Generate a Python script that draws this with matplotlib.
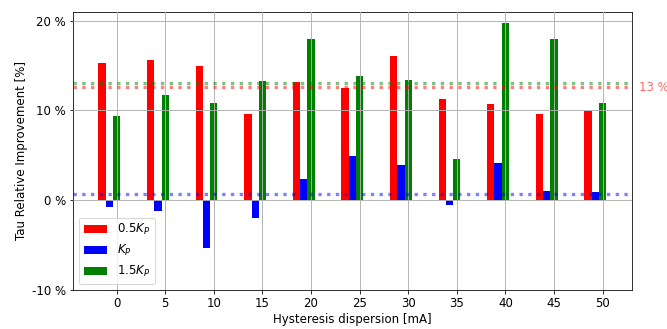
import numpy as np
import matplotlib
matplotlib.use("Agg")
import matplotlib.pyplot as plt
from matplotlib.ticker import FuncFormatter

dispersion = [0, 5, 10, 15, 20, 25, 30, 35, 40, 45, 50]
half_kp = [15.3, 15.57, 14.9, 9.6, 13.2, 12.55, 16.1, 11.25, 10.7, 9.6, 9.9]
kp = [-0.78, -1.2, -5.3, -1.97, 2.35, 4.88, 3.95, -0.52, 4.2, 1.04, 0.93]
one_half_kp = [9.35, 11.73, 10.8, 13.33, 17.95, 13.85, 13.44, 4.62, 19.78, 17.95, 10.8]
labels = ["0.5$K_P$", "$K_P$", "1.5$K_P$"]
colors = ["red", "blue", "green"]

FS = 11.8
fig = plt.figure(figsize=(667 / 72, 329 / 72), dpi=72)
ax = fig.add_axes([0.1095, 0.1185, 0.8375, 0.8459])

x = np.array(dispersion, dtype=float)
w = 0.75
series = [half_kp, kp, one_half_kp]
offsets = [-1.5, -0.75, 0.0]
for vals, off, c, lab in zip(series, offsets, colors, labels):
    ax.bar(x + off, vals, width=w, color=c, label=lab, zorder=2)

for vals, c in zip(series, colors):
    ax.axhline(np.mean(vals), color=c, linestyle=":", linewidth=3.3, alpha=0.5, zorder=3)

m = np.mean(half_kp)
ax.text(1.014, m, f"{m:.0f} %", transform=ax.get_yaxis_transform(),
        color="red", alpha=0.6, fontsize=FS, va="center", ha="left")

ax.set_ylim(-10, 21)
ax.set_yticks([-10, 0, 10, 20])
ax.yaxis.set_major_formatter(FuncFormatter(lambda v, p: f"{v:.0f} %"))
ax.set_xticks(dispersion)
ax.grid(True, color="#b0b0b0", linewidth=0.9, zorder=2.5)
ax.set_axisbelow(False)
ax.set_xlabel("Hysteresis dispersion [mA]", fontsize=FS, labelpad=3)
ax.set_ylabel("Tau Relative Improvement [%]", fontsize=FS)
ax.tick_params(labelsize=FS)
ax.legend(loc="lower left", fontsize=FS)

fig.savefig("out.png", dpi=72)
